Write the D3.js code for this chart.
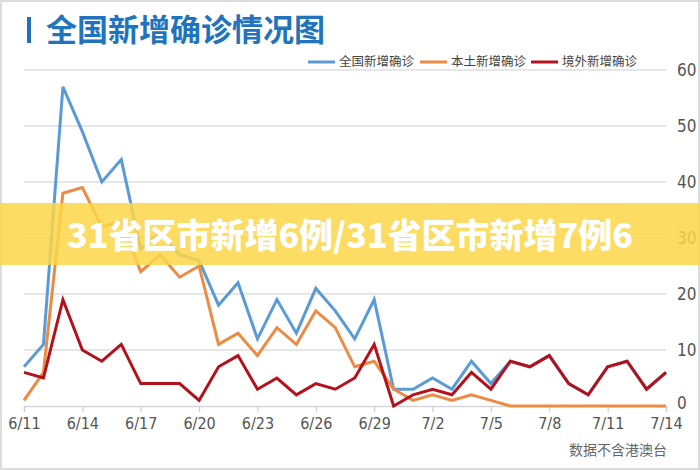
<!DOCTYPE html>
<html>
<head>
<meta charset="utf-8">
<script src="https://cdn.jsdelivr.net/npm/d3@7"></script>
<style>
  body { margin: 0; background: #fff; }
  svg { display: block; }
</style>
</head>
<body>
<svg id="viz-container" width="700" height="470"></svg>
<script>
// categories (dates)
var dates = ["6/11","6/12","6/13","6/14","6/15","6/16","6/17","6/18","6/19","6/20",
  "6/21","6/22","6/23","6/24","6/25","6/26","6/27","6/28","6/29","6/30",
  "7/1","7/2","7/3","7/4","7/5","7/6","7/7","7/8","7/9","7/10",
  "7/11","7/12","7/13","7/14"];

// series
var total    = [7,11,57,49,40,44,28,31,27,26,18,22,12,19,13,21,17,12,19,3,3,5,3,8,4,8,7,9,4,2,7,8,3,6];
var local    = [1,6,38,39,32,33,24,27,23,25,11,13,9,14,11,17,14,7,8,3,1,2,1,2,1,0,0,0,0,0,0,0,0,0];
var imported = [6,5,19,10,8,11,4,4,4,1,7,9,3,5,2,4,3,5,11,0,2,3,2,6,3,8,7,9,4,2,7,8,3,6];

var seriesNames = ["全国新增确诊","本土新增确诊","境外新增确诊"];
var yTicks = [0,10,20,30,40,50,60];
var xTickLabels = ["6/11","6/14","6/17","6/20","6/23","6/26","6/29","7/2","7/5","7/8","7/11","7/14"];

var title = "全国新增确诊情况图"
  , banner = "31省区市新增6例/31省区市新增7例6"
  , footnote = "数据不含港澳台";

var colors = ["#5b9bd5","#eb8b45","#b3121c"];
var cjk = "'Noto Sans CJK SC','Noto Sans',sans-serif"
  , narrow = "'Liberation Sans Narrow','DejaVu Sans Condensed',sans-serif";

var svg = d3.select("#viz-container");

// frame
svg.append("rect")
  .attr("x",1).attr("y",1).attr("width",698).attr("height",468)
  .attr("fill","#fff").attr("stroke","#dcdcdc").attr("stroke-width",2);

// scales
var x = d3.scalePoint().domain(dates).range([24,666]);
var y = d3.scaleLinear().domain([0,60]).range([406,70]);

// title
svg.append("rect")
  .attr("x",27).attr("y",17).attr("width",4).attr("height",26)
  .attr("fill","#1f72bb");
svg.append("text")
  .attr("x",46).attr("y",41)
  .attr("font-family",cjk).attr("font-size",31).attr("font-weight","bold")
  .attr("fill","#1f74bd")
  .text(title);

// gridlines + right labels
var grid = svg.append("g").attr("id","grid");
grid.selectAll("line")
  .data(yTicks.filter(d => d > 0))
 .enter().append("line")
  .attr("x1",x.range()[0]).attr("x2",x.range()[1])
  .attr("y1",d => y(d)).attr("y2",d => y(d))
  .attr("stroke","#dedede").attr("stroke-width",1.5);
grid.selectAll("text")
  .data(yTicks)
 .enter().append("text")
  .attr("x",677).attr("y",d => y(d))
  .attr("dy",d => d === 0 ? "0.2em" : "0.36em")
  .attr("font-family",narrow).attr("font-size",17)
  .attr("fill","#555")
  .text(d => d);

// x axis
var xAxis = d3.axisBottom(x)
  .tickValues(xTickLabels)
  .tickSize(6)
  .tickPadding(6);
var xg = svg.append("g")
  .attr("transform","translate(0,"+y(0)+")")
  .call(xAxis);
xg.select(".domain").attr("stroke","#d6d6d6").attr("stroke-width",1.5);
xg.selectAll(".tick line").attr("stroke","#cfcfcf").attr("stroke-width",1.2);
xg.selectAll(".tick text")
  .attr("font-family",narrow).attr("font-size",16).attr("fill","#555");

// lines
var line = d3.line()
  .x((d,i) => x(dates[i]))
  .y(d => y(d));
svg.append("g").attr("id","lines-container")
  .selectAll("path")
  .data([total,local,imported])
 .enter().append("path")
  .attr("d",line)
  .attr("fill","none")
  .attr("stroke",(d,i) => colors[i])
  .attr("stroke-width",3)
  .attr("stroke-linejoin","miter");

// legend
var legendX = [308,420,531];
var legend = svg.append("g").attr("id","legend")
  .selectAll("g")
  .data(seriesNames)
 .enter().append("g")
  .attr("transform",(d,i) => "translate("+legendX[i]+",62)");
legend.append("line")
  .attr("x1",0).attr("x2",27)
  .attr("stroke",(d,i) => colors[i]).attr("stroke-width",3);
legend.append("text")
  .attr("x",31).attr("dy","0.35em")
  .attr("font-family",cjk).attr("font-size",12.5)
  .attr("fill","#444")
  .text(d => d);

// banner over the chart
svg.append("rect")
  .attr("x",0).attr("y",203).attr("width",700).attr("height",62)
  .attr("fill","rgb(252,214,72)").attr("fill-opacity",0.85);
svg.append("text")
  .attr("x",350).attr("y",236)
  .attr("dy","0.36em")
  .attr("text-anchor","middle")
  .attr("font-family",cjk).attr("font-size",34).attr("font-weight",900)
  .attr("fill","#fff")
  .text(banner);

// footnote
svg.append("text")
  .attr("x",667).attr("y",455)
  .attr("text-anchor","end")
  .attr("font-family",cjk).attr("font-size",14)
  .attr("fill","#666")
  .text(footnote);
</script>
</body>
</html>
